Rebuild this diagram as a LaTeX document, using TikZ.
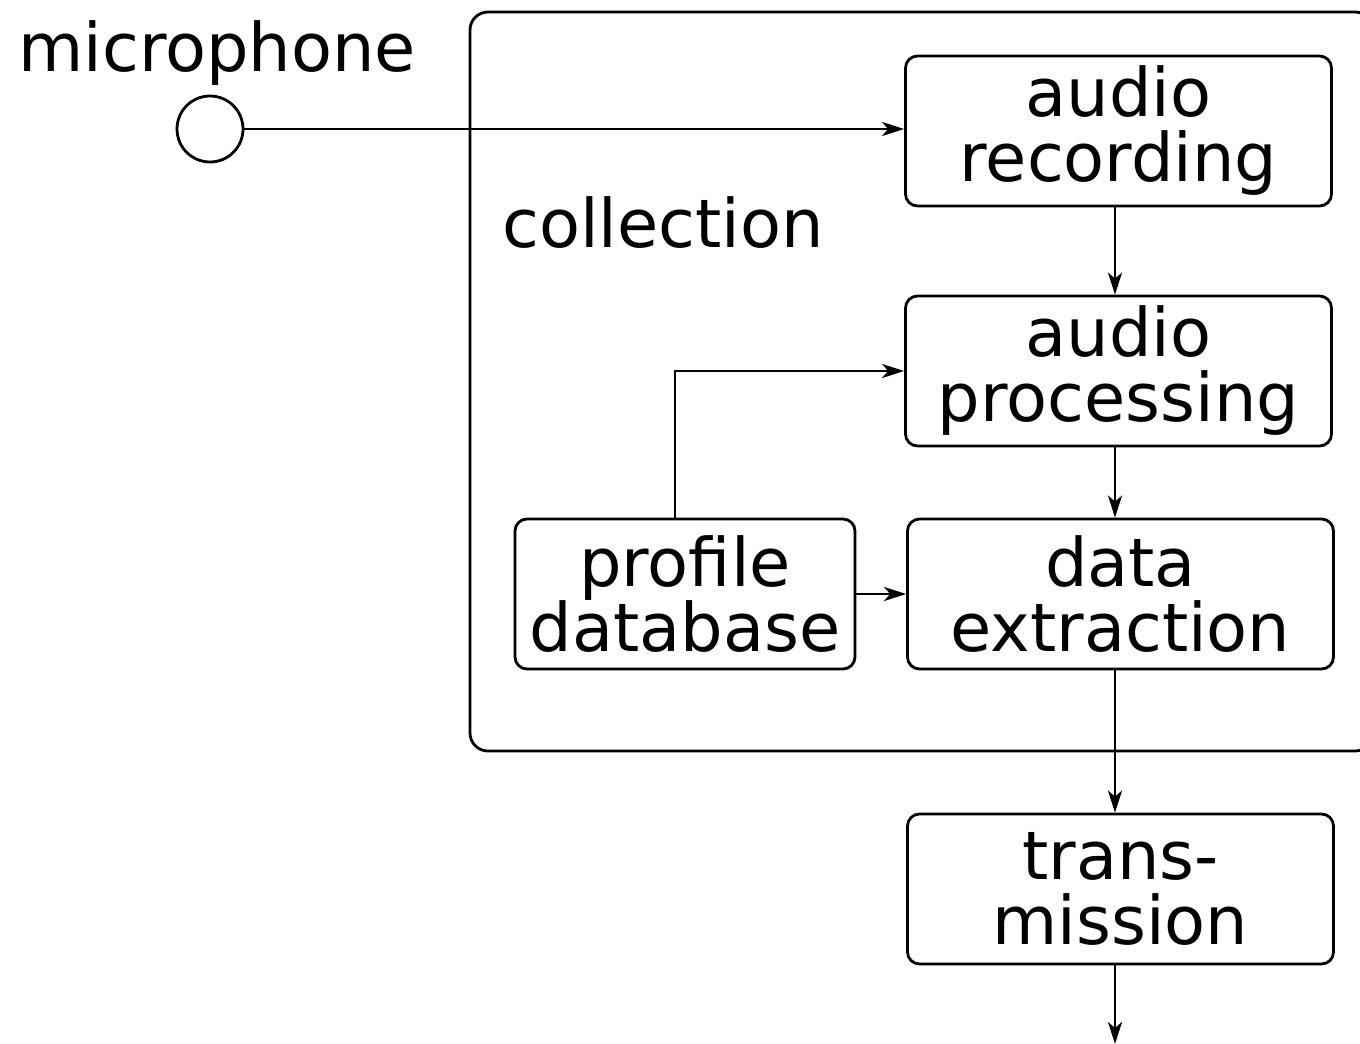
\documentclass[tikz,border=0pt]{standalone}
\usepackage{fontspec}
\setmainfont{DejaVu Sans}
\usetikzlibrary{arrows.meta}

\newcommand{\bigtext}{\fontsize{33.5}{32.5}\selectfont}

\begin{document}
\begin{tikzpicture}[x=0.5pt, y=-0.5pt, line width=1.4pt,
    stage/.style={draw, rounded corners=6pt, minimum width=213pt, minimum height=75pt,
        align=center, inner sep=0pt, font=\bigtext},
    flow/.style={-{Stealth[length=11pt, width=7pt, inset=3pt]}}]
    \useasboundingbox (0,0) rectangle (1360,1044);
    \draw[rounded corners=9pt] (470,12) rectangle (1373,751);
    \node[font=\bigtext, anchor=base] (miclabel) at (217,71) {microphone};
    \node[font=\bigtext, anchor=base west, inner sep=0pt] (coll) at (501,247) {collection};
    \node[circle, draw, minimum size=33pt, inner sep=0pt] (mic) at (210,129) {};
    \node[stage] (rec) at (1118.5,131) {audio\\recording};
    \node[stage] (proc) at (1118.5,371) {audio\\processing};
    \node[stage] (extr) at (1120.5,594) {data\\extraction};
    \node[stage, minimum width=170pt] (prof) at (685,594) {profile\\database};
    \node[stage] (trans) at (1120.5,889) {trans-\\mission};
    \coordinate (axis) at (1115,0);
    \coordinate (out) at (1115,1044);
    \coordinate (up) at (675,0);
    \draw[flow] (mic.east) -- (mic.east -| rec.west);
    \draw[flow] (axis |- rec.south) -- (axis |- proc.north);
    \draw[flow] (axis |- proc.south) -- (axis |- extr.north);
    \draw[flow] (up |- prof.north) |- (proc.west);
    \draw[flow] (prof.east) -- (prof.east -| extr.west);
    \draw[flow] (axis |- extr.south) -- (axis |- trans.north);
    \draw[flow] (axis |- trans.south) -- (out);
\end{tikzpicture}
\end{document}
